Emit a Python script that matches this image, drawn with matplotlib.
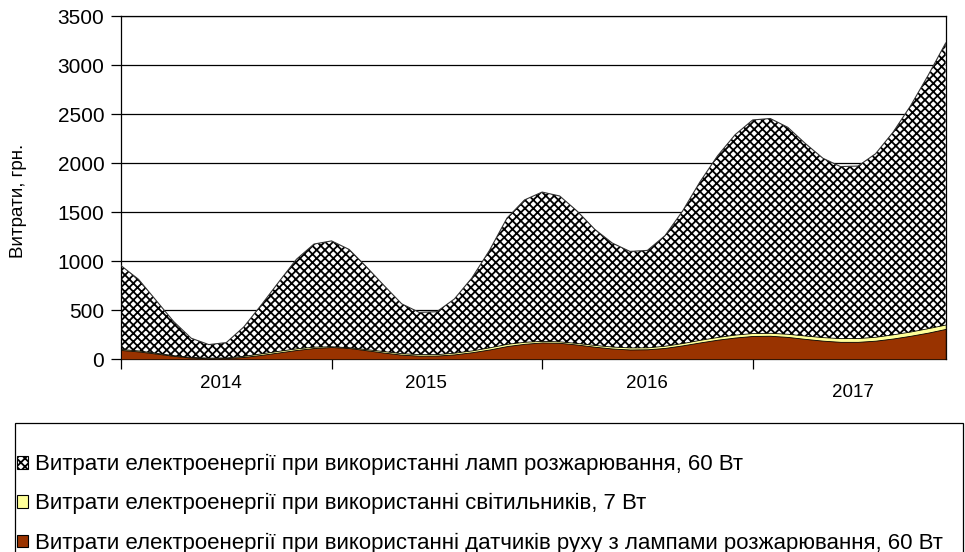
import matplotlib
matplotlib.use("Agg")
import matplotlib.pyplot as plt
import numpy as np
from matplotlib.patches import Patch, Rectangle

plt.rcParams['font.family'] = ['Liberation Sans', 'DejaVu Sans']
plt.rcParams['hatch.linewidth'] = 1.3

# monthly costs, 2014-2017 (48 months)
lamps60 = [955, 815, 600, 385, 215, 150, 170, 330, 555, 790, 1020, 1175,
           1207, 1120, 940, 750, 565, 478, 485, 615, 830, 1110, 1440, 1625,
           1705, 1665, 1510, 1325, 1185, 1100, 1110, 1260, 1510, 1810, 2075, 2290,
           2440, 2455, 2365, 2200, 2050, 1965, 1970, 2095, 2315, 2585, 2895, 3225]
lum7 = [105, 90, 66, 42, 24, 17, 19, 36, 61, 87, 112, 129,
        133, 123, 103, 83, 62, 53, 53, 68, 91, 122, 158, 179,
        188, 183, 166, 146, 130, 121, 122, 139, 166, 199, 228, 252,
        268, 270, 260, 242, 226, 216, 217, 230, 255, 284, 318, 355]
sensors60 = [95, 80, 58, 35, 17, 10, 12, 24, 45, 70, 95, 115,
             125, 115, 92, 68, 47, 37, 38, 50, 72, 100, 135, 158,
             172, 168, 150, 128, 110, 100, 102, 116, 142, 172, 200, 222,
             238, 240, 228, 208, 190, 178, 178, 190, 212, 240, 272, 310]
years = ["2014", "2015", "2016", "2017"]
year_pos = [5.7, 17.4, 30.0, 41.7]
labels = ["Витрати електроенергії при використанні ламп розжарювання, 60 Вт",
          "Витрати електроенергії при використанні світильників, 7 Вт",
          "Витрати електроенергії при використанні датчиків руху з лампами розжарювання, 60 Вт"]

months = np.arange(len(lamps60))

W, H = 965, 552
fig = plt.figure(figsize=(W / 100, H / 100), dpi=100)
ax = fig.add_axes([121 / W, 1 - 359.3 / H, (945.7 - 121) / W, (359.3 - 16) / H])

ax.fill_between(months, 0, lamps60, facecolor="white", edgecolor="black",
                hatch="xxxx", linewidth=0.0, zorder=2)
ax.plot(months, lamps60, color="#333333", linewidth=0.8, zorder=3)
ax.fill_between(months, 0, lum7, facecolor="#FFFF99", edgecolor="black",
                linewidth=0.6, zorder=4)
ax.fill_between(months, 0, sensors60, facecolor="#993300", edgecolor="black",
                linewidth=0.6, zorder=5)

ax.set_xlim(0, len(months) - 1)
ax.set_ylim(0, 3500)
ax.set_yticks(np.arange(0, 3501, 500))
ax.grid(axis="y", color="black", linewidth=0.9, zorder=1)
ax.set_xticks([0, 12, 24, 36])
ax.set_xticklabels([])
ax.tick_params(axis="both", direction="out", length=7, width=0.9, labelsize=15)
ax.tick_params(axis="y", pad=5)
for s in ax.spines.values():
    s.set_linewidth(0.9)
ax.set_ylabel("Витрати, грн.", fontsize=13.5)
ax.yaxis.set_label_coords((27 - 121) / 824.7, 0.461)

for i, (yr, xp) in enumerate(zip(years, year_pos)):
    off = -0.098 if i == 3 else -0.07
    ax.text(xp, off, yr, transform=ax.get_xaxis_transform(),
            ha="center", va="center", fontsize=13.5)

# legend frame runs off the bottom edge, as in the original
fig.add_artist(Rectangle((15 / W, -0.05), (963 - 15) / W, 1 - 423 / H + 0.05,
                         transform=fig.transFigure, facecolor="none",
                         edgecolor="black", linewidth=0.9))
handles = [Patch(facecolor="white", edgecolor="black", hatch="xxxx", linewidth=0.8),
           Patch(facecolor="#FFFF99", edgecolor="black", linewidth=0.8),
           Patch(facecolor="#993300", edgecolor="black", linewidth=0.8)]
leg = fig.legend(handles, labels, loc="upper left",
                 bbox_to_anchor=(17 / W, 1 - 454 / H),
                 fontsize=16, frameon=False,
                 handlelength=0.5, handleheight=0.5, handletextpad=0.3,
                 labelspacing=0.82, borderpad=0, borderaxespad=0)

fig.savefig("out.png", dpi=100)
